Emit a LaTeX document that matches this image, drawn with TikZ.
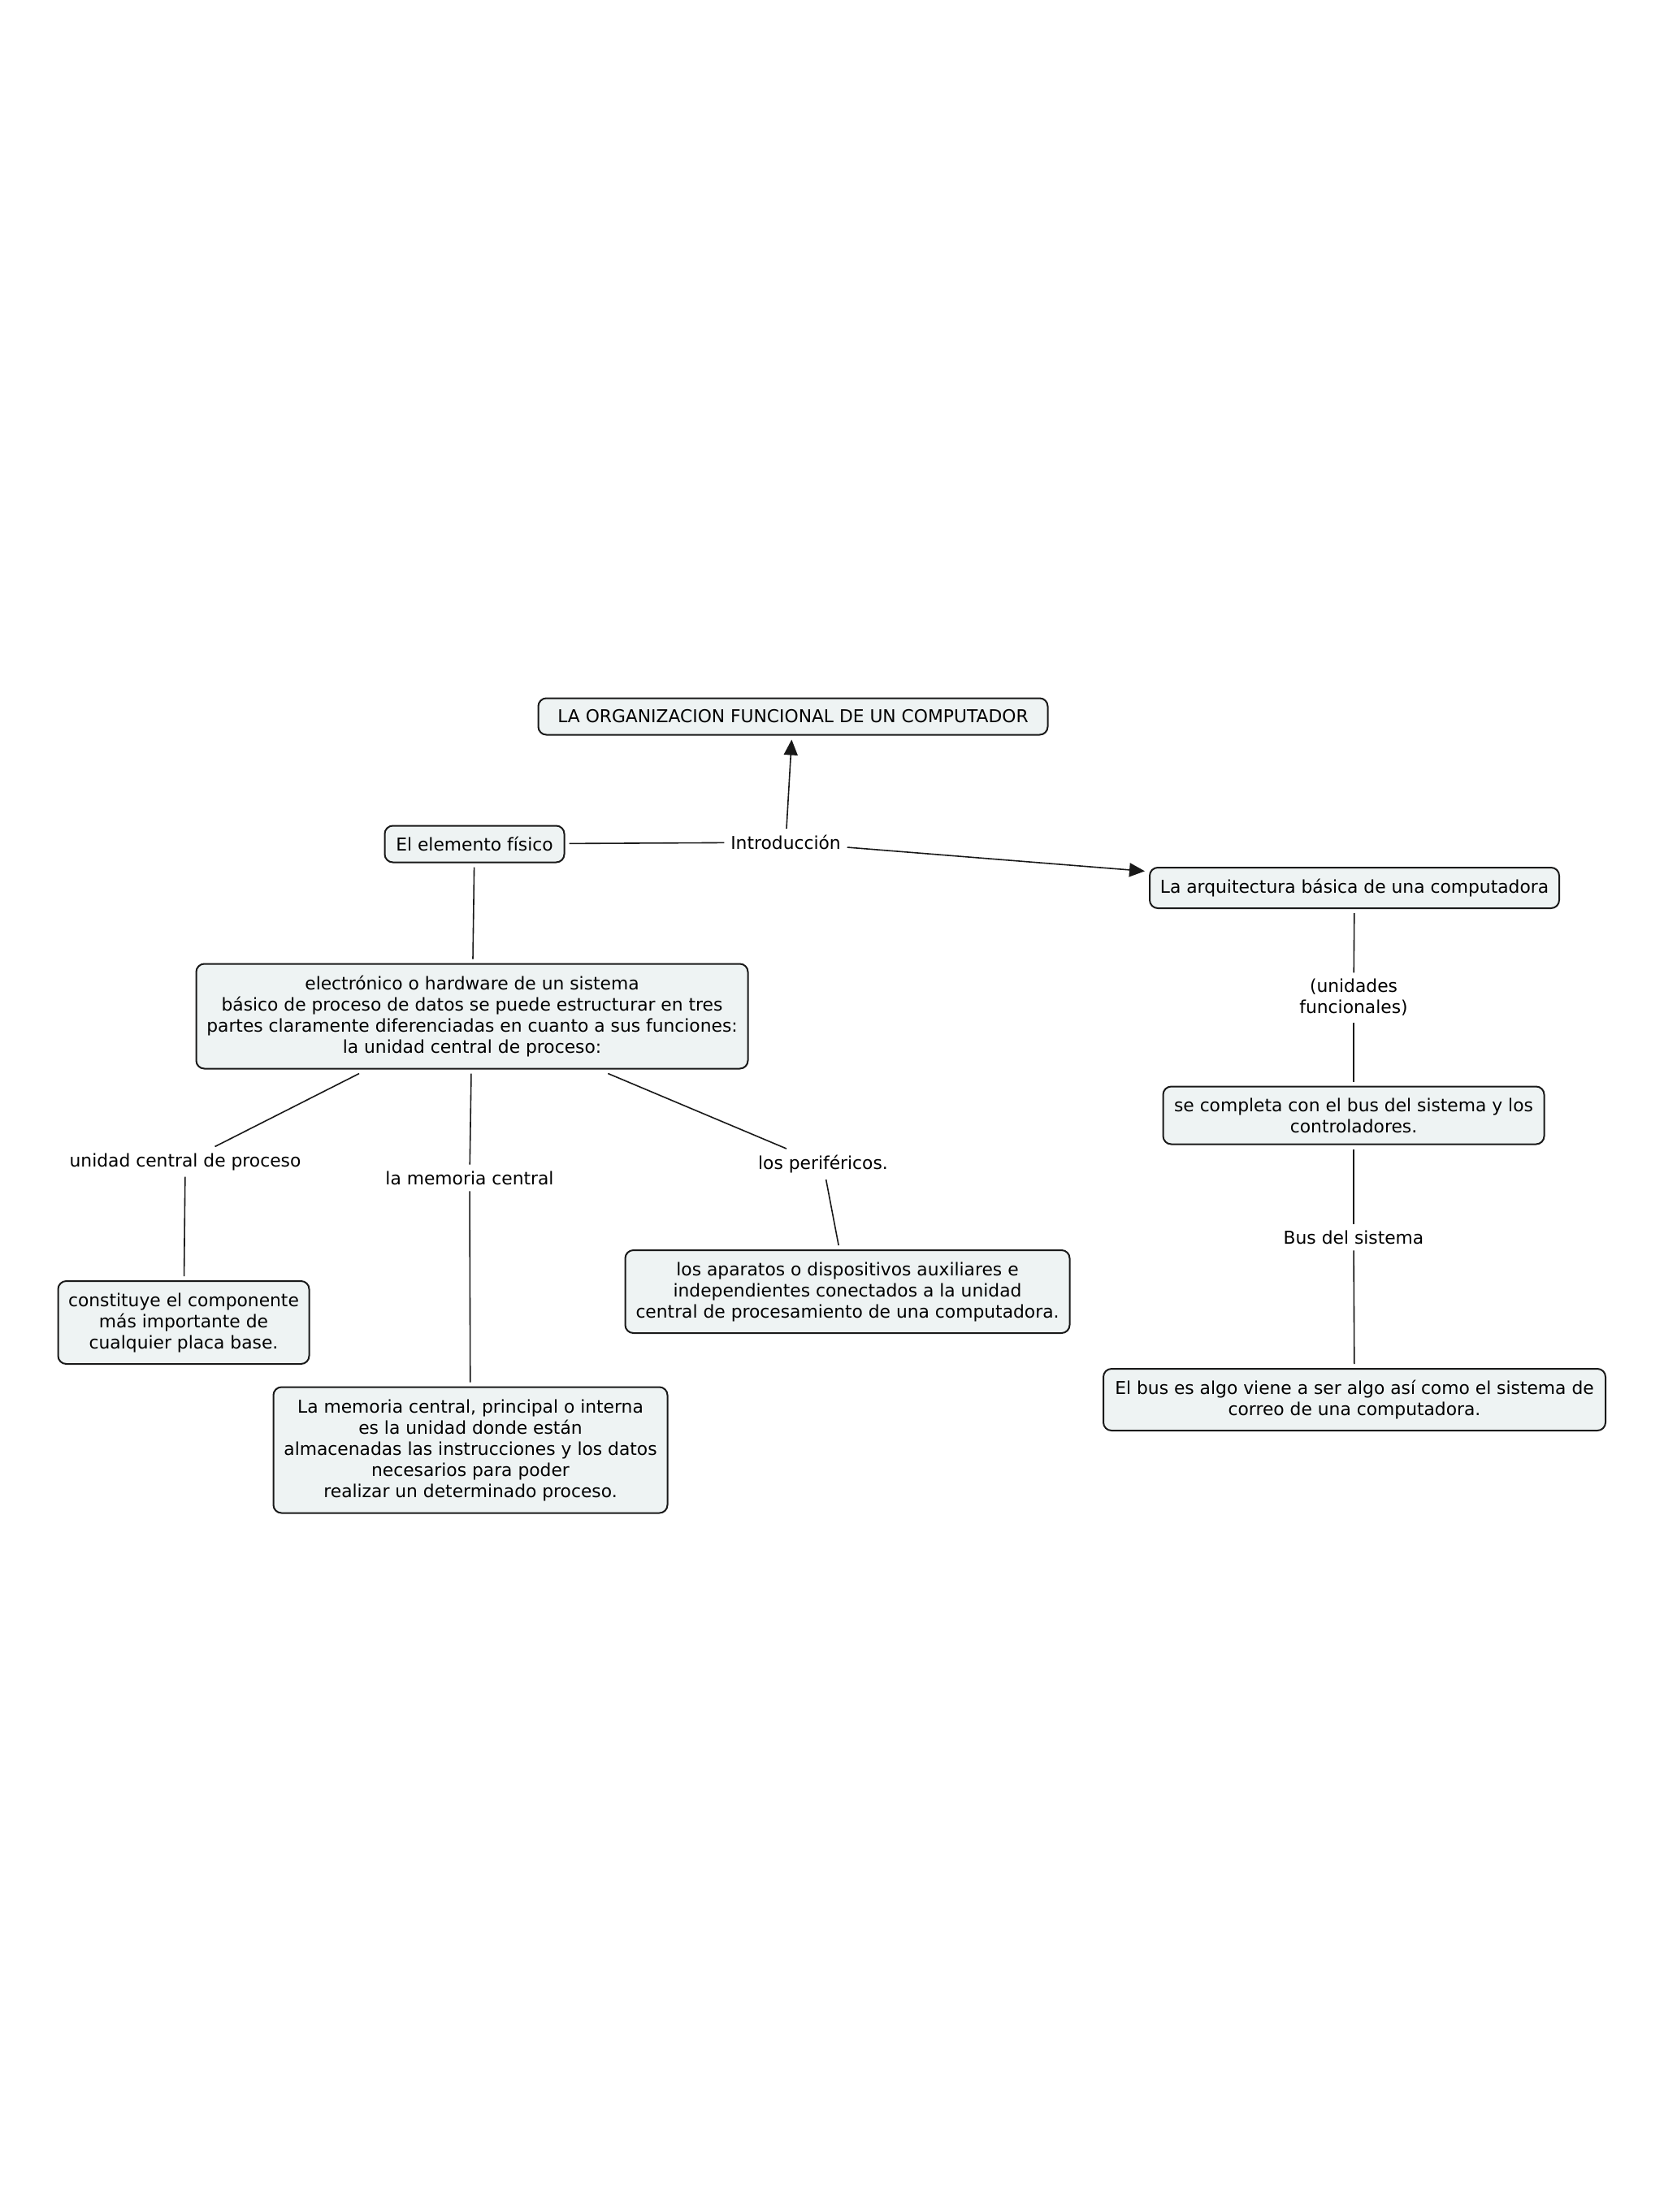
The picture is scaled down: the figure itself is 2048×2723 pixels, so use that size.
\documentclass[tikz,border=0pt]{standalone}
\usepackage{fontspec}
\setmainfont{DejaVu Sans}
\usetikzlibrary{arrows.meta}
\definecolor{boxfill}{RGB}{238,243,243}
\definecolor{boxline}{RGB}{25,25,25}
\begin{document}
\begin{tikzpicture}[x=0.5pt,y=-0.5pt,
  txt/.style={font=\fontsize{10.9pt}{13pt}\selectfont},
  concept/.style={txt, draw=boxline, fill=boxfill, line width=1pt, rounded corners=5pt,
    align=center, inner sep=2pt, outer sep=3pt},
  linklabel/.style={txt, align=center, inner sep=3pt, outer sep=1pt},
  conn/.style={draw=boxline, line width=0.8pt},
  arr/.style={conn, -{Triangle[length=9.5pt,width=8.5pt]}}]
\useasboundingbox (0,0) rectangle (2048,2723);
\fill[white] (0,0) rectangle (2048,2723);

% concepts
\node[concept, minimum width=313.5pt, minimum height=22.5pt] (title) at (976,882)
  {LA ORGANIZACION FUNCIONAL DE UN COMPUTADOR};
\node[concept, minimum width=110.5pt, minimum height=22.5pt] (fis) at (584,1039)
  {El elemento físico};
\node[concept, minimum width=252pt, minimum height=25pt] (arq) at (1667,1093)
  {La arquitectura básica de una computadora};
\node[concept, minimum width=234.5pt, minimum height=35.5pt] (comp) at (1666,1373)
  {se completa con el bus del sistema y los\\controladores.};
\node[concept, minimum width=309pt, minimum height=38pt] (bus) at (1667,1723)
  {El bus es algo viene a ser algo así como el sistema de\\correo de una computadora.};
\node[concept, minimum width=339.5pt, minimum height=64.5pt] (elec) at (581,1251)
  {electrónico o hardware de un sistema\\básico de proceso de datos se puede estructurar en tres\\partes claramente diferenciadas en cuanto a sus funciones:\\la unidad central de proceso:};
\node[concept, minimum width=154.5pt, minimum height=51pt] (const) at (226,1628)
  {constituye el componente\\más importante de\\cualquier placa base.};
\node[concept, minimum width=273.5pt, minimum height=51pt] (apar) at (1043,1590)
  {los aparatos o dispositivos auxiliares e\\independientes conectados a la unidad\\central de procesamiento de una computadora.};
\node[concept, minimum width=242.5pt, minimum height=77.5pt] (mem) at (579,1785)
  {La memoria central, principal o interna\\es la unidad donde están\\almacenadas las instrucciones y los datos\\necesarios para poder\\realizar un determinado proceso.};

% link labels
\node[linklabel] (intro) at (967,1037) {Introducción};
\node[linklabel] (unid) at (1666,1228) {(unidades\\funcionales)};
\node[linklabel] (bsis) at (1666,1523) {Bus del sistema};
\node[linklabel] (ucp) at (228,1430) {unidad central de proceso};
\node[linklabel] (lmc) at (578,1450) {la memoria central};
\node[linklabel] (per) at (1013,1433) {los periféricos.};

% connectors
\draw[conn] (fis) -- (intro);
\draw[arr] (intro) -- (title);
\draw[arr] (intro) -- (arq);
\draw[conn] (arq) -- (unid);
\draw[conn] (unid) -- (comp);
\draw[conn] (comp) -- (bsis);
\draw[conn] (bsis) -- (bus);
\draw[conn] (fis) -- (elec);
\draw[conn] (elec) -- (ucp);
\draw[conn] (ucp) -- (const);
\draw[conn] (elec) -- (lmc);
\draw[conn] (lmc) -- (mem);
\draw[conn] (elec) -- (per);
\draw[conn] (per) -- (apar);
\end{tikzpicture}
\end{document}
